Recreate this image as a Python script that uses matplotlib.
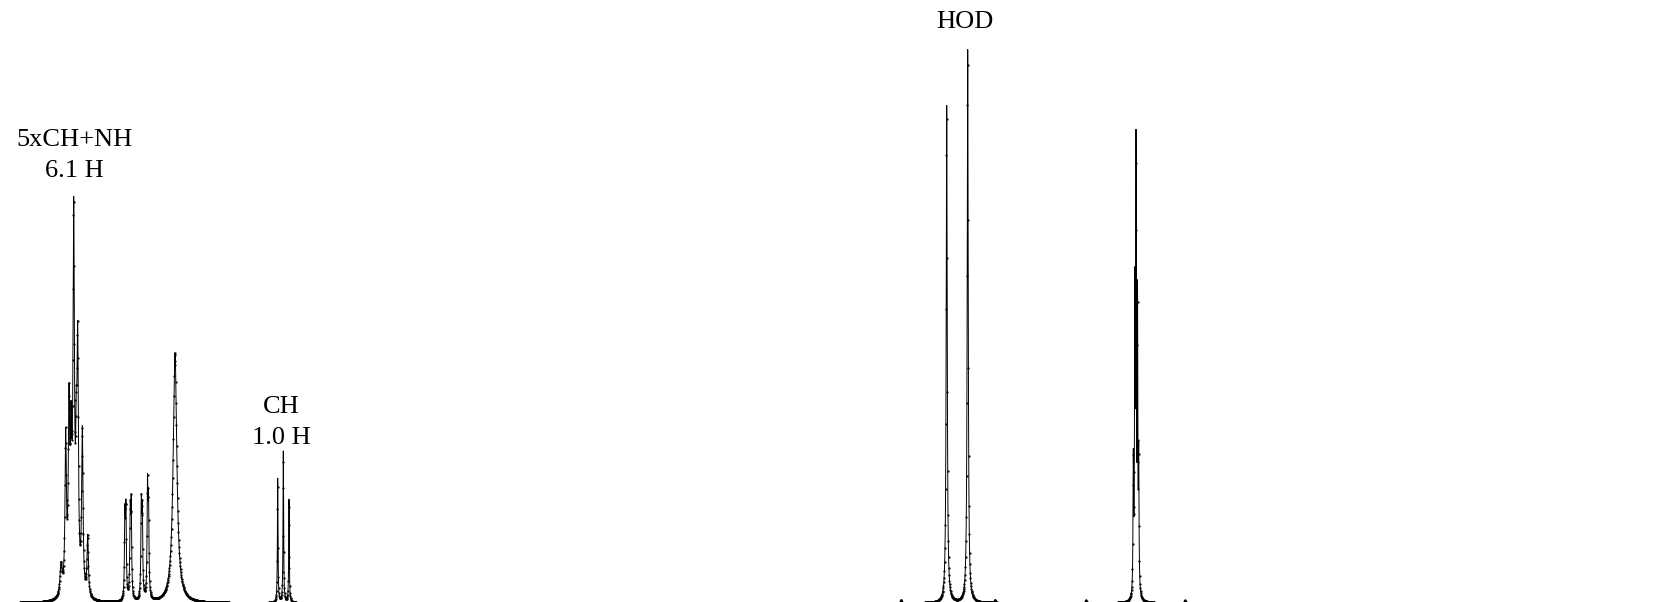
import numpy as np
import matplotlib.pyplot as plt

# 1H NMR spectrum, peaks (shift in ppm, height, half width in ppm)
cluster_ppm = [7.6950, 7.6715, 7.6550, 7.6450, 7.6315, 7.6185, 7.6115, 7.5885, 7.5615, 7.6400]
cluster_height = [30, 150, 165, 110, 345, 110, 225, 160, 60, 35]
cluster_width = [0.006, 0.004, 0.004, 0.004, 0.004, 0.004, 0.004, 0.004, 0.004, 0.015]

mid_ppm = [7.3755, 7.3705, 7.3490, 7.3440, 7.2935, 7.2885, 7.2625, 7.2575, 7.1250]
mid_height = [80, 85, 82, 90, 90, 82, 108, 90, 250]
mid_width = [0.0025, 0.0025, 0.0025, 0.0025, 0.0025, 0.0025, 0.0025, 0.0025, 0.011]

ch_ppm = [6.6115, 6.5835, 6.5550]
ch_height = [124, 151, 103]
ch_width = [0.00175, 0.00175, 0.00175]

hod_ppm = [3.2665, 3.1615]
hod_height = [497, 553]
hod_width = [0.003, 0.003]

right_ppm = [2.3335, 2.3260, 2.3200, 2.3125, 2.3065]
right_height = [130, 290, 432, 285, 130]
right_width = [0.00175, 0.00175, 0.00175, 0.00175, 0.00175]

# tiny satellites near the baseline
sat_ppm = [3.495, 3.025, 2.570, 2.075]
sat_height = [3, 3, 3, 3]
sat_width = [0.0025, 0.0025, 0.0025, 0.0025]

# labels: text, ppm, height of baseline of text
labels = ["5xCH+NH", "6.1 H", "CH", "1.0 H", "HOD"]
label_ppm = [7.63, 7.63, 6.5925, 6.5925, 3.175]
label_y = [457, 426, 190, 159, 575]

ppm_all = cluster_ppm + mid_ppm + ch_ppm + hod_ppm + right_ppm + sat_ppm
height_all = cluster_height + mid_height + ch_height + hod_height + right_height + sat_height
width_all = cluster_width + mid_width + ch_width + hod_width + right_width + sat_width

x = np.arange(8.0, -0.3, -0.0005)
y = np.zeros_like(x)
for p, h, w in zip(ppm_all, height_all, width_all):
    y += h / (1 + ((x - p) / w) ** 2)  # lorentzian line

fig = plt.figure(figsize=(16.53, 6.02), dpi=100)
ax = fig.add_axes([0, 0, 1, 1])
ax.plot(x, y, color="black", lw=0.7, marker=".", ms=1.2, markevery=3)

for t, px, py in zip(labels, label_ppm, label_y):
    ax.text(px, py, t, ha="center", va="baseline", fontsize=19, family="Liberation Serif")

ax.set_xlim(8.0, 8.0 - 1653 / 200)
ax.set_ylim(1, 603)
ax.axis("off")
fig.savefig("out.png", dpi=100)
